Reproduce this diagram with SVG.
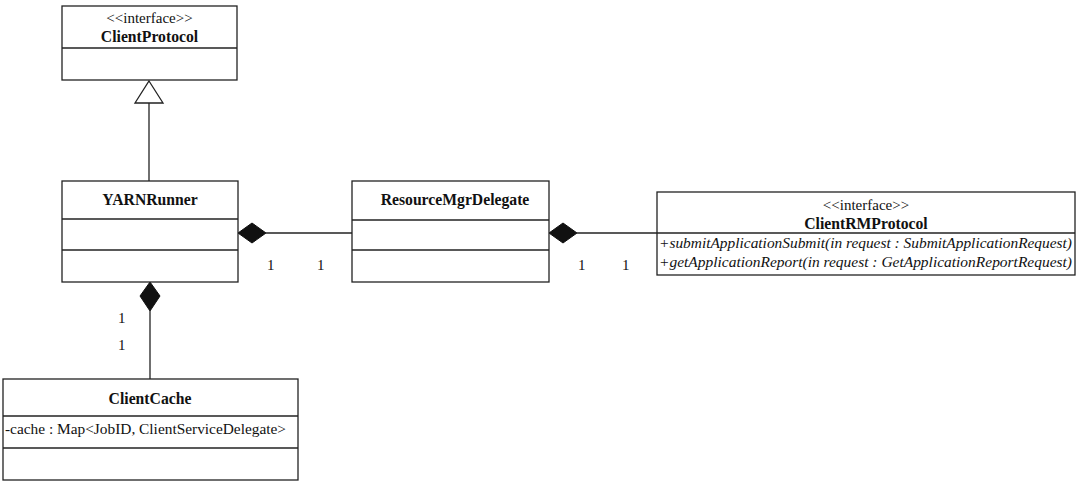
<svg xmlns="http://www.w3.org/2000/svg" width="1081" height="486" viewBox="0 0 1081 486">
<style>
.box{fill:#fff;stroke:#222;stroke-width:1.3}
.ln{stroke:#222;stroke-width:1.3;fill:none}
.t{font-family:"Liberation Serif","Times New Roman",serif;font-size:15px;fill:#111}
.b{font-weight:bold;text-anchor:middle;font-size:15.7px}
.c{text-anchor:middle}
.i{font-style:italic}
.m{font-family:"Liberation Serif","Times New Roman",serif;font-size:15px;fill:#111}
.dia{fill:#111;stroke:#111;stroke-width:1}
</style>
<rect width="1081" height="486" fill="#fff"/>
<g opacity="0.999">
<g id="connectors">
  <line class="ln" x1="149" y1="103" x2="149" y2="181"/>
  <polygon points="149,81 163,103 135,103" fill="#fff" stroke="#222" stroke-width="1.3"/>
  <line class="ln" x1="266" y1="233" x2="352" y2="233"/>
  <polygon class="dia" points="238,233 252,223 266,233 252,243"/>
  <line class="ln" x1="577" y1="233" x2="657" y2="233"/>
  <polygon class="dia" points="549,233 563,223 577,233 563,243"/>
  <line class="ln" x1="150" y1="311" x2="150" y2="379"/>
  <polygon class="dia" points="150,282 160,296 150,311 140,296"/>
  <text class="m" x="267" y="270">1</text>
  <text class="m" x="317" y="270">1</text>
  <text class="m" x="578" y="270">1</text>
  <text class="m" x="622" y="270">1</text>
  <text class="m" x="118" y="323">1</text>
  <text class="m" x="118" y="350">1</text>
</g>
<g id="ClientProtocol">
  <rect class="box" x="62" y="6" width="175" height="74"/>
  <line class="ln" x1="62" y1="48" x2="237" y2="48"/>
  <text class="t c" x="149.5" y="23">&lt;&lt;interface&gt;&gt;</text>
  <text class="t b" x="149.5" y="42">ClientProtocol</text>
</g>
<g id="YARNRunner">
  <rect class="box" x="62" y="181" width="176" height="101"/>
  <line class="ln" x1="62" y1="219" x2="238" y2="219"/>
  <line class="ln" x1="62" y1="250" x2="238" y2="250"/>
  <text class="t b" x="150" y="205">YARNRunner</text>
</g>
<g id="ResourceMgrDelegate">
  <rect class="box" x="352" y="181" width="197" height="101"/>
  <line class="ln" x1="352" y1="220" x2="549" y2="220"/>
  <line class="ln" x1="352" y1="250" x2="549" y2="250"/>
  <text class="t b" x="455" y="205">ResourceMgrDelegate</text>
</g>
<g id="ClientRMProtocol">
  <rect class="box" x="657" y="192" width="418" height="83"/>
  <line class="ln" x1="657" y1="233" x2="1075" y2="233"/>
  <text class="t c" x="866" y="210">&lt;&lt;interface&gt;&gt;</text>
  <text class="t b" x="866" y="229">ClientRMProtocol</text>
  <text class="t i" x="659" y="248" textLength="413" lengthAdjust="spacingAndGlyphs">+submitApplicationSubmit(in request : SubmitApplicationRequest)</text>
  <text class="t i" x="659" y="267" textLength="413" lengthAdjust="spacingAndGlyphs">+getApplicationReport(in request : GetApplicationReportRequest)</text>
</g>
<g id="ClientCache">
  <rect class="box" x="3" y="379" width="295" height="101"/>
  <line class="ln" x1="3" y1="416" x2="298" y2="416"/>
  <line class="ln" x1="3" y1="448" x2="298" y2="448"/>
  <text class="t b" x="150" y="404">ClientCache</text>
  <text class="t" x="5" y="434" textLength="281" lengthAdjust="spacingAndGlyphs">-cache : Map&lt;JobID, ClientServiceDelegate&gt;</text>
</g>
</g>
</svg>
